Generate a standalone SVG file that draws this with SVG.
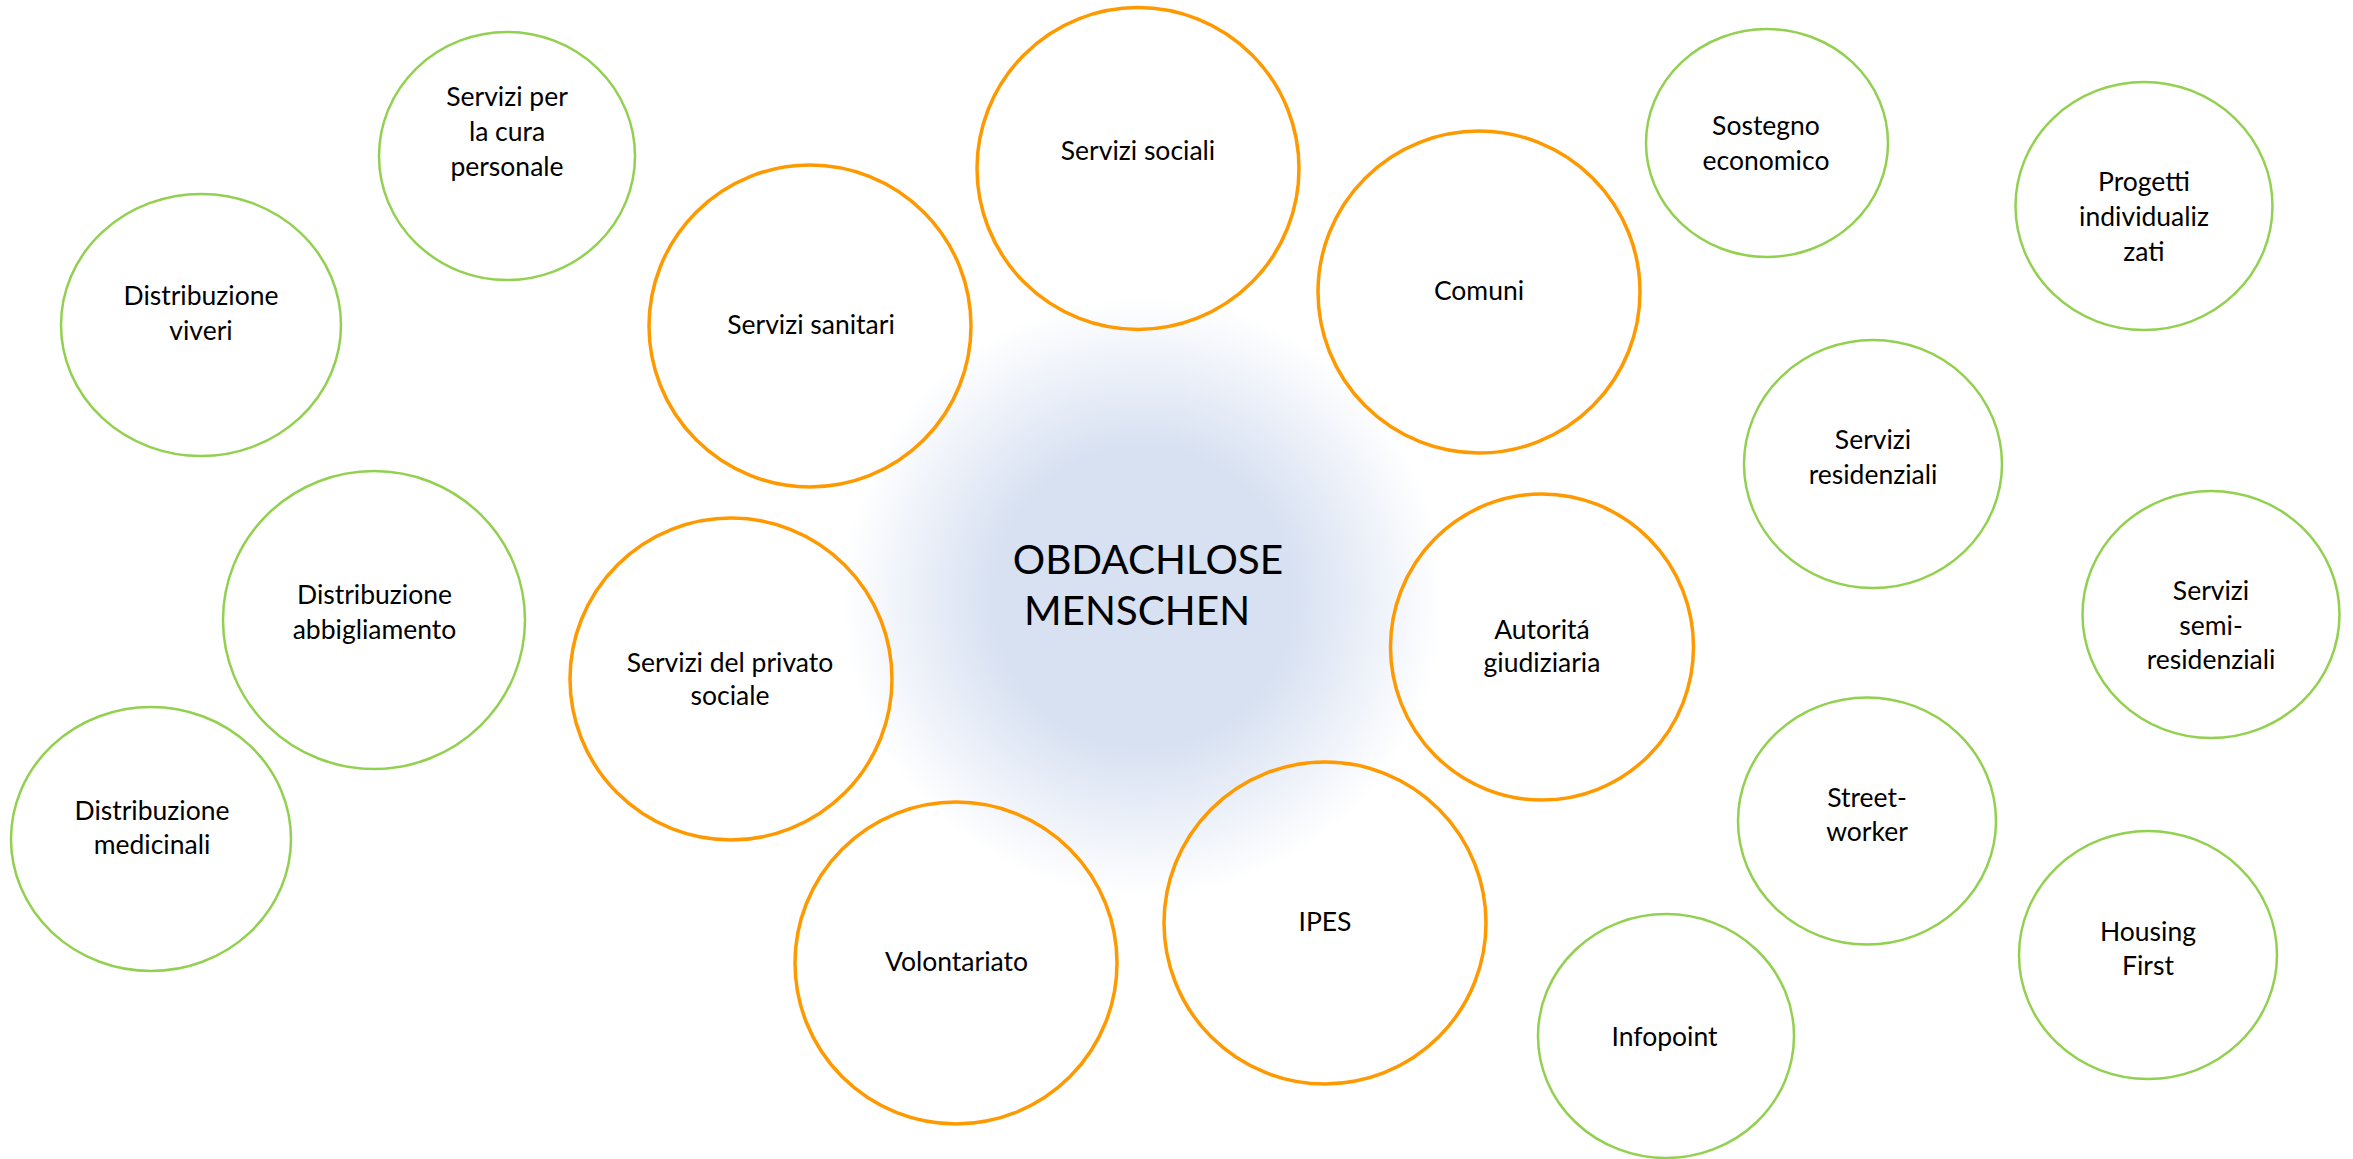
<svg xmlns="http://www.w3.org/2000/svg" width="2353" height="1159" viewBox="0 0 2353 1159">
<style>
.o{fill:none;stroke:#FF9900;stroke-width:3.5}
.g{fill:none;stroke:#92D050;stroke-width:2.5}
text{font-family:Lato,"Liberation Sans",sans-serif;font-size:26.5px;fill:#000;text-anchor:middle}
.t{font-size:40.5px}
</style>
<defs>
<radialGradient id="glow" cx="1143" cy="597" r="300" gradientUnits="userSpaceOnUse">
<stop offset="0" stop-color="#D8E1F2" stop-opacity="1"/>
<stop offset="0.5" stop-color="#D8E1F2" stop-opacity="1"/>
<stop offset="0.78" stop-color="#D8E1F2" stop-opacity="0.45"/>
<stop offset="1" stop-color="#D8E1F2" stop-opacity="0"/>
</radialGradient>
</defs>
<rect width="2353" height="1159" fill="#fff"/>
<g id="center">
<circle cx="1143" cy="597" r="300" fill="url(#glow)"/>
<text class="t" x="1148" y="574">OBDACHLOSE</text>
<text class="t" x="1137" y="625">MENSCHEN</text>
</g>
<g id="connectors"></g>
<g id="servizi-cura"><ellipse class="g" cx="507" cy="156" rx="128" ry="124"/><text x="507" y="106">Servizi per</text><text x="507" y="141">la cura</text><text x="507" y="176">personale</text></g>
<g id="viveri"><ellipse class="g" cx="201" cy="325" rx="140" ry="131"/><text x="201" y="305">Distribuzione</text><text x="201" y="340">viveri</text></g>
<g id="abbigliamento"><ellipse class="g" cx="374" cy="620" rx="151" ry="149"/><text x="374.5" y="604">Distribuzione</text><text x="374.5" y="639">abbigliamento</text></g>
<g id="medicinali"><ellipse class="g" cx="151" cy="839" rx="140" ry="132"/><text x="152" y="819.5">Distribuzione</text><text x="152" y="854">medicinali</text></g>
<g id="sanitari"><circle class="o" cx="810" cy="326" r="161"/><text x="811" y="334">Servizi sanitari</text></g>
<g id="sociali"><circle class="o" cx="1138" cy="168.5" r="161"/><text x="1138" y="160">Servizi sociali</text></g>
<g id="comuni"><circle class="o" cx="1479" cy="292" r="161"/><text x="1479" y="300">Comuni</text></g>
<g id="privato"><circle class="o" cx="731" cy="679" r="161"/><text x="730" y="671.5">Servizi del privato</text><text x="730" y="705">sociale</text></g>
<g id="autorita"><ellipse class="o" cx="1542" cy="647" rx="151.5" ry="153"/><text x="1542" y="639">Autoritá</text><text x="1542" y="671.5">giudiziaria</text></g>
<g id="ipes"><circle class="o" cx="1325" cy="923" r="161"/><text x="1325" y="931">IPES</text></g>
<g id="volontariato"><circle class="o" cx="956" cy="963" r="161"/><text x="956.5" y="971">Volontariato</text></g>
<g id="sostegno"><ellipse class="g" cx="1767" cy="143" rx="121" ry="114"/><text x="1766" y="135">Sostegno</text><text x="1766" y="170">economico</text></g>
<g id="progetti"><ellipse class="g" cx="2144" cy="206" rx="128.5" ry="124"/><text x="2144" y="190.5">Progetti</text><text x="2144" y="226">individualiz</text><text x="2144" y="261">zati</text></g>
<g id="residenziali"><ellipse class="g" cx="1873" cy="464" rx="129" ry="124"/><text x="1873" y="448.5">Servizi</text><text x="1873" y="484">residenziali</text></g>
<g id="semiresidenziali"><ellipse class="g" cx="2211" cy="614.5" rx="128.5" ry="123.5"/><text x="2211" y="600">Servizi</text><text x="2211" y="634.5">semi-</text><text x="2211" y="669">residenziali</text></g>
<g id="streetworker"><ellipse class="g" cx="1867" cy="821" rx="129" ry="123.5"/><text x="1867" y="807">Street-</text><text x="1867" y="841">worker</text></g>
<g id="housing"><ellipse class="g" cx="2148" cy="955" rx="129" ry="124"/><text x="2148" y="940.5">Housing</text><text x="2148" y="975">First</text></g>
<g id="infopoint"><ellipse class="g" cx="1666" cy="1036" rx="128" ry="122"/><text x="1664.5" y="1045.5">Infopoint</text></g>
</svg>
